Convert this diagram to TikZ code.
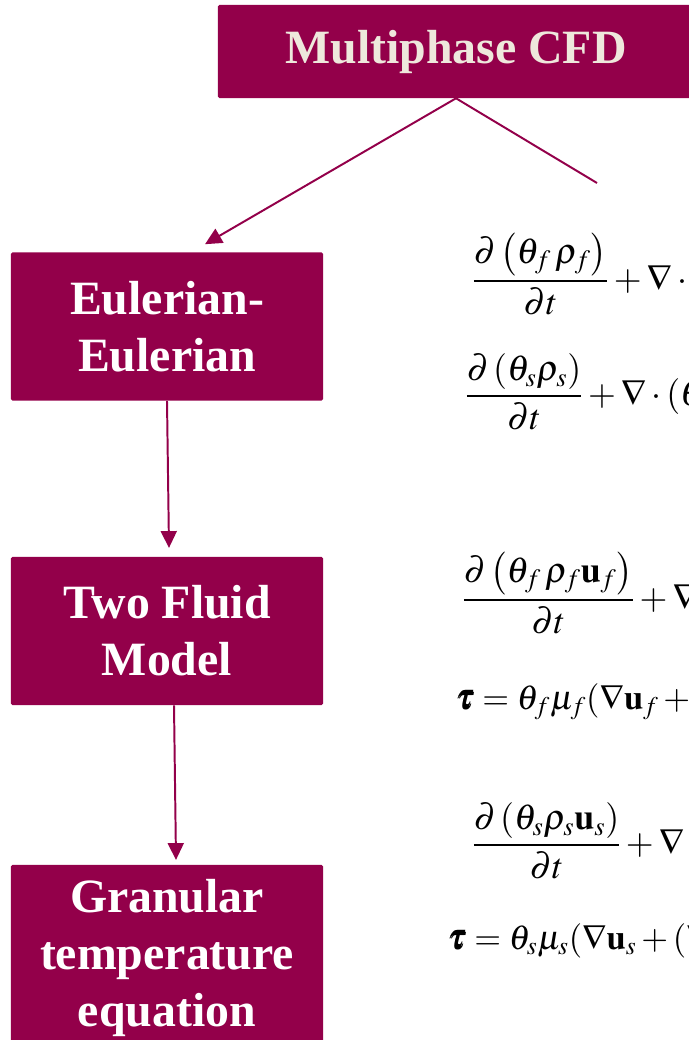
\documentclass[tikz,border=0pt]{standalone}
\usepackage{amsmath}
\usepackage{mathptmx}
\usepackage{bm}
\usepackage{fontspec}
\setmainfont{Liberation Serif}
\usetikzlibrary{arrows.meta,positioning,calc}
\definecolor{cfdred}{HTML}{93004A}
\definecolor{cfdcream}{HTML}{EEE8DC}

\begin{document}
\begin{tikzpicture}[x=0.025cm,y=-0.025cm]
    \tikzstyle{model}=[rectangle,fill=cfdred,rounded corners=1pt,text=white,align=center,
        font=\bfseries\fontsize{34}{40.5}\selectfont,minimum width=7.8cm,minimum height=3.7cm]
    \tikzstyle{link}=[draw=cfdred,line width=1.4pt,-{Triangle[length=0.42cm,width=0.4cm]}]
    \tikzstyle{eqn}=[anchor=base west,inner sep=0pt,font=\fontsize{25.5}{30}\selectfont]

    \useasboundingbox (0,0) rectangle (689,1040);
    \clip (0,0) rectangle (689,1040);

    % Draw the model boxes
    \node[model,text=cfdcream,minimum width=11.9cm,minimum height=2.325cm] (cfd) at (456,51.5) {Multiphase CFD};
    \node[model] (euler) at (167,326.5) {Eulerian-\\Eulerian};
    \node[model] (twofluid) at (167,631) {Two Fluid\\Model};
    \node[model,minimum height=4.65cm] (granular) at (167,958) {Granular\\temperature\\equation};

    % Connect the boxes
    \coordinate (cut) at (597,183);
    \draw[link] (cfd.south) -- ([xshift=0.95cm,yshift=0.2cm]euler.north);
    \draw[draw=cfdred,line width=1.4pt] (cfd.south) -- (cut);
    \draw[link] (euler.south) -- ([xshift=0.05cm,yshift=0.22cm]twofluid.north);
    \draw[link] ([xshift=0.175cm]twofluid.south) -- ([xshift=0.225cm,yshift=0.12cm]granular.north);

    % Continuity equations
    \node[eqn] (mass f) at (472,290) {$\displaystyle\frac{\partial\left(\theta_f\,\rho_f\right)}{\partial t}+\nabla\cdot\left(\theta_f\rho_f\mathbf{u}_f\right)$};
    \node[eqn] (mass s) at (465,405) {$\displaystyle\frac{\partial\left(\theta_s\rho_s\right)}{\partial t}+\nabla\cdot\left(\theta_s\rho_s\mathbf{u}_s\right)$};

    % Momentum equations
    \node[eqn] (mom f) at (462,609) {$\displaystyle\frac{\partial\left(\theta_f\,\rho_f\mathbf{u}_f\right)}{\partial t}+\nabla\cdot\left(\theta_f\rho_f\mathbf{u}_f\mathbf{u}_f\right)$};
    \node[eqn,font=\fontsize{24.5}{30}\selectfont] (stress f) at (455,709) {$\bm{\tau}=\theta_f\mu_f(\nabla\mathbf{u}_f+(\nabla\mathbf{u}_f)^T)$};
    \node[eqn] (mom s) at (472,854) {$\displaystyle\frac{\partial\left(\theta_s\rho_s\mathbf{u}_s\right)}{\partial t}+\nabla\cdot\left(\theta_s\rho_s\mathbf{u}_s\mathbf{u}_s\right)$};
    \node[eqn,font=\fontsize{24.5}{30}\selectfont] (stress s) at (447,949) {$\bm{\tau}=\theta_s\mu_s(\nabla\mathbf{u}_s+(\nabla\mathbf{u}_s)^T)$};
\end{tikzpicture}
\end{document}
